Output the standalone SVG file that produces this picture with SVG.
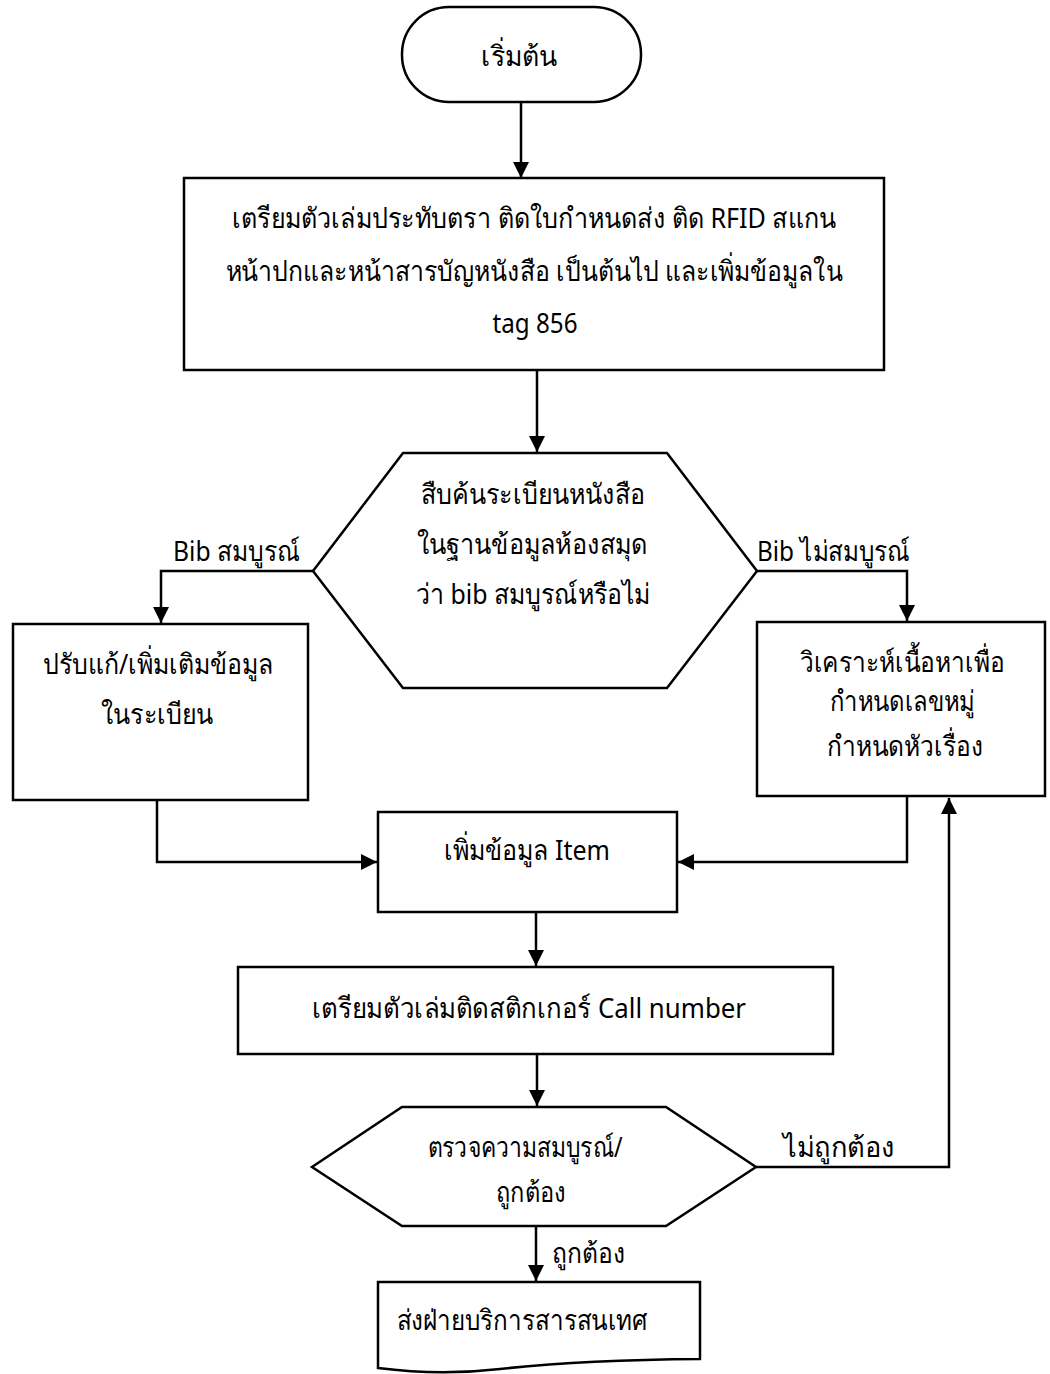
<svg xmlns="http://www.w3.org/2000/svg" width="1050" height="1374" viewBox="0 0 1050 1374">
  <style>
    .shape { fill: #ffffff; stroke: #000000; stroke-width: 2.5; }
    .conn { fill: none; stroke: #000000; stroke-width: 2.5; }
    text { font-family: "Noto Sans", "DejaVu Sans", sans-serif; font-size: 28px; fill: #000000; text-anchor: middle; }
    .lbl { text-anchor: start; }
  </style>
  <defs>
    <marker id="arrow" markerUnits="userSpaceOnUse" markerWidth="16" markerHeight="16" refX="16" refY="8" orient="auto">
      <path d="M0,0 L16,8 L0,16 z" fill="#000000"/>
    </marker>
  </defs>
  <rect width="1050" height="1374" fill="#ffffff"/>

  <!-- nodes -->
  <g id="start">
    <rect class="shape" x="402" y="7" width="239" height="95" rx="47" ry="47"/>
    <text x="519" y="66" textLength="76" lengthAdjust="spacingAndGlyphs">เริ่มต้น</text>
  </g>
  <g id="prepare">
    <rect class="shape" x="184" y="178" width="700" height="192"/>
    <text x="534" y="228" textLength="604" lengthAdjust="spacingAndGlyphs">เตรียมตัวเล่มประทับตรา ติดใบกำหนดส่ง ติด RFID สแกน</text>
    <text x="534" y="281" textLength="617" lengthAdjust="spacingAndGlyphs">หน้าปกและหน้าสารบัญหนังสือ เป็นต้นไป และเพิ่มข้อมูลใน</text>
    <text x="535" y="333" textLength="85" lengthAdjust="spacingAndGlyphs">tag 856</text>
  </g>
  <g id="search">
    <polygon class="shape" points="403,453 667,453 757,571 667,688 403,688 313,571"/>
    <text x="533" y="504" textLength="225" lengthAdjust="spacingAndGlyphs">สืบค้นระเบียนหนังสือ</text>
    <text x="532" y="554" textLength="231" lengthAdjust="spacingAndGlyphs">ในฐานข้อมูลห้องสมุด</text>
    <text x="533" y="604" textLength="235" lengthAdjust="spacingAndGlyphs">ว่า bib สมบูรณ์หรือไม่</text>
  </g>
  <g id="edit">
    <rect class="shape" x="13" y="624" width="295" height="176"/>
    <text x="158" y="674" textLength="231" lengthAdjust="spacingAndGlyphs">ปรับแก้/เพิ่มเติมข้อมูล</text>
    <text x="157" y="724" textLength="113" lengthAdjust="spacingAndGlyphs">ในระเบียน</text>
  </g>
  <g id="analyse">
    <rect class="shape" x="757" y="622" width="288" height="174"/>
    <text x="902" y="672" textLength="205" lengthAdjust="spacingAndGlyphs">วิเคราะห์เนื้อหาเพื่อ</text>
    <text x="902" y="711" textLength="145" lengthAdjust="spacingAndGlyphs">กำหนดเลขหมู่</text>
    <text x="905" y="756" textLength="156" lengthAdjust="spacingAndGlyphs">กำหนดหัวเรื่อง</text>
  </g>
  <g id="item">
    <rect class="shape" x="378" y="812" width="299" height="100"/>
    <text x="527" y="860" textLength="166" lengthAdjust="spacingAndGlyphs">เพิ่มข้อมูล Item</text>
  </g>
  <g id="callnumber">
    <rect class="shape" x="238" y="967" width="595" height="87"/>
    <text x="529" y="1018" textLength="434" lengthAdjust="spacingAndGlyphs">เตรียมตัวเล่มติดสติกเกอร์ Call number</text>
  </g>
  <g id="check">
    <polygon class="shape" points="402,1107 666,1107 756,1167 666,1226 402,1226 312,1167"/>
    <text x="525" y="1157" textLength="195" lengthAdjust="spacingAndGlyphs">ตรวจความสมบูรณ์/</text>
    <text x="531" y="1202" textLength="70" lengthAdjust="spacingAndGlyphs">ถูกต้อง</text>
  </g>
  <g id="deliver">
    <path class="shape" d="M378,1282 H700 V1359 Q580,1360 500,1369 Q440,1376 378,1368 Z"/>
    <text x="522" y="1330" textLength="251" lengthAdjust="spacingAndGlyphs">ส่งฝ่ายบริการสารสนเทศ</text>
  </g>

  <!-- connectors -->
  <g id="connectors">
    <path class="conn" d="M521,102 V178" marker-end="url(#arrow)"/>
    <path class="conn" d="M537,370 V452" marker-end="url(#arrow)"/>
    <path class="conn" d="M313,571 H161 V623" marker-end="url(#arrow)"/>
    <path class="conn" d="M757,571 H907 V621" marker-end="url(#arrow)"/>
    <path class="conn" d="M157,800 V862 H377" marker-end="url(#arrow)"/>
    <path class="conn" d="M907,796 V862 H678" marker-end="url(#arrow)"/>
    <path class="conn" d="M536,912 V966" marker-end="url(#arrow)"/>
    <path class="conn" d="M537,1054 V1106" marker-end="url(#arrow)"/>
    <path class="conn" d="M756,1167 H949 V798" marker-end="url(#arrow)"/>
    <path class="conn" d="M536,1226 V1281" marker-end="url(#arrow)"/>
    <text class="lbl" x="173" y="561" textLength="127" lengthAdjust="spacingAndGlyphs">Bib สมบูรณ์</text>
    <text class="lbl" x="757" y="561" textLength="153" lengthAdjust="spacingAndGlyphs">Bib ไม่สมบูรณ์</text>
    <text class="lbl" x="783" y="1157" textLength="112" lengthAdjust="spacingAndGlyphs">ไม่ถูกต้อง</text>
    <text class="lbl" x="552" y="1263" textLength="73" lengthAdjust="spacingAndGlyphs">ถูกต้อง</text>
  </g>
</svg>
